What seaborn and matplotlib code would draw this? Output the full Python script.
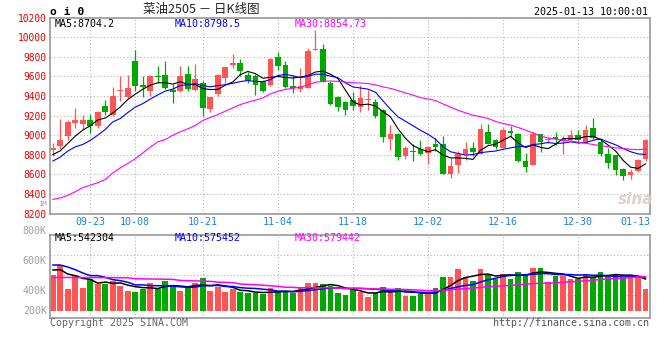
import numpy as np
import pandas as pd
import matplotlib
matplotlib.use("Agg")
import matplotlib.pyplot as plt
import seaborn as sns

# ---------------- data ----------------
holidays = ["2024-09-16", "2024-09-17", "2024-10-01", "2024-10-02", "2024-10-03",
            "2024-10-04", "2024-10-07", "2025-01-01"]
trade_days = [d for d in pd.bdate_range("2024-09-12", "2025-01-13")
              if d.strftime("%Y-%m-%d") not in holidays]

opens = [8844, 8892, 8990, 9123, 9116, 9150, 9092, 9293, 9204, 9453,
         9388, 9755, 9517, 9456, 9609, 9619, 9463, 9449, 9626, 9459,
         9534, 9272, 9422, 9582, 9714, 9738, 9619, 9602, 9555, 9510,
         9799, 9721, 9507, 9476, 9483, 9874, 9884, 9534, 9395, 9340,
         9364, 9286, 9357, 9340, 9255, 8956, 9017, 8786, 8837, 8854,
         8820, 8915, 8905, 8599, 8691, 8803, 8871, 8810, 9031, 8946,
         8871, 9041, 9007, 8735, 8694, 9007, 8946, 8983, 8939, 8946,
         8997, 8922, 9075, 8929, 8810, 8793, 8650, 8592, 8633, 8759]
highs = [8922, 9170, 9150, 9279, 9204, 9221, 9252, 9364, 9490, 9602,
         9619, 9867, 9609, 9615, 9711, 9755, 9524, 9704, 9711, 9731,
         9551, 9395, 9629, 9700, 9830, 9779, 9646, 9626, 9568, 9789,
         9847, 9755, 9619, 9687, 9891, 10078, 9932, 9551, 9405, 9354,
         9442, 9517, 9466, 9374, 9269, 9109, 9020, 8888, 8905, 8946,
         8888, 8973, 8990, 8769, 8837, 8929, 8929, 9119, 9119, 8966,
         9075, 9089, 9024, 8820, 9034, 9014, 8983, 9034, 8990, 9058,
         9048, 9109, 9177, 8946, 8871, 8793, 8667, 8650, 8752, 8956]
lows = [8786, 8854, 8946, 9075, 9068, 9024, 9075, 9211, 9194, 9354,
        9381, 9449, 9388, 9398, 9534, 9476, 9330, 9442, 9456, 9449,
        9194, 9235, 9398, 9534, 9687, 9602, 9534, 9415, 9442, 9507,
        9670, 9480, 9429, 9439, 9483, 9867, 9544, 9306, 9245, 9204,
        9255, 9235, 9262, 9177, 8929, 8847, 8745, 8759, 8735, 8796,
        8701, 8837, 8599, 8558, 8616, 8745, 8786, 8803, 8915, 8854,
        8864, 8983, 8725, 8623, 8694, 8827, 8922, 8895, 8803, 8946,
        8922, 8922, 8963, 8786, 8660, 8589, 8541, 8555, 8623, 8735]
closes = [8871, 8946, 9133, 9150, 9157, 9096, 9238, 9235, 9405, 9466,
          9480, 9507, 9490, 9609, 9592, 9480, 9439, 9609, 9476, 9578,
          9279, 9388, 9619, 9694, 9738, 9653, 9551, 9510, 9456, 9782,
          9704, 9497, 9480, 9507, 9857, 9884, 9544, 9323, 9286, 9262,
          9293, 9381, 9364, 9194, 8980, 9017, 8776, 8871, 8824, 8803,
          8881, 8878, 8599, 8681, 8803, 8854, 8827, 9065, 8915, 8878,
          9058, 9024, 8735, 8674, 9014, 8929, 8963, 8956, 8966, 9000,
          8946, 9058, 8973, 8803, 8711, 8643, 8582, 8626, 8742, 8946]
# volume in thousands of lots
volumes = [618, 782, 368, 618, 385, 538, 459, 459, 504, 431,
           346, 329, 380, 482, 374, 516, 402, 346, 414, 482,
           567, 346, 414, 317, 368, 317, 306, 300, 283, 385,
           346, 346, 300, 397, 482, 482, 465, 419, 312, 278,
           374, 329, 244, 306, 414, 317, 397, 261, 261, 283,
           312, 397, 584, 584, 708, 572, 516, 720, 618, 550,
           635, 550, 669, 635, 737, 737, 499, 589, 589, 550,
           544, 618, 572, 669, 618, 618, 572, 572, 572, 380]

# moving-average values before a full window is available
ma5_head = [8800, 8840, 8915, 8990]
ma10_head = [8735, 8776, 8837, 8881, 8905, 8946, 9000, 9058, 9136]
ma30_head = [8344, 8358, 8385, 8422, 8463, 8490, 8514, 8548, 8613, 8667,
             8711, 8759, 8820, 8878, 8932, 8956, 9000, 9034, 9065, 9099,
             9150, 9181, 9211, 9245, 9279, 9313, 9337, 9357, 9381]
vma5_head = [697, 703, 629, 601]
vma10_head = [782, 782, 748, 703, 646, 601, 601, 572, 533]
vma30_head = [570, 570, 570, 569, 569, 568, 568, 567, 567, 566,
              565, 548, 546, 544, 542, 540, 538, 520, 516, 512,
              508, 504, 490, 486, 482, 458, 452, 446, 440]

price_ma_text = ["MA5:8704.2", "MA10:8798.5", "MA30:8854.73"]
vol_ma_text = ["MA5:542304", "MA10:575452", "MA30:579442"]
price_ticks = [8200, 8400, 8600, 8800, 9000, 9200, 9400, 9600, 9800, 10000, 10200]
vol_tick_labels = ["800K", "600K", "400K", "200K"]
tick_dates = ["09-23", "10-08", "10-21", "11-04", "11-18", "12-02", "12-16", "12-30"]
last_date_label = "01-13"
title_text = "菜油2505 － 日K线图"
code_text = "o i 0"
time_text = "2025-01-13 10:00:01"

# ---------------- derived ----------------
o = np.array(opens, float); h = np.array(highs, float)
l = np.array(lows, float); c = np.array(closes, float)
vol = np.array(volumes, float)
n = len(c)
xi = np.arange(n)


def with_head(series, window, head):
    r = pd.Series(series).rolling(window).mean().to_numpy()
    r[:len(head)] = head
    return r


ma5 = with_head(c, 5, ma5_head)
ma10 = with_head(c, 10, ma10_head)
ma30 = with_head(c, 30, ma30_head)
vma5 = with_head(vol, 5, vma5_head)
vma10 = with_head(vol, 10, vma10_head)
vma30 = with_head(vol, 30, vma30_head)

labels_md = [d.strftime("%m-%d") for d in trade_days]
tick_idx = [labels_md.index(t) for t in tick_dates]

# ---------------- styling ----------------
sns.set_style("white")
plt.rcParams["font.family"] = ["DejaVu Sans Mono", "Noto Sans CJK SC"]

RED = "#ff5555"
GREEN = "#00a800"
GRIDC = "#b4b4b4"
FRAME = "#9a9a9a"
DATEC = "#1a84d8"
PAL = {"MA5": "#000000", "MA10": "#0000ff", "MA30": "#ff00ff"}

W, H = 660, 360
fig = plt.figure(figsize=(6.6, 3.6), dpi=100)
fig.patch.set_facecolor("white")


def fx(x):
    return x / W


def fy(y):
    return 1 - y / H


axp = fig.add_axes([fx(50), fy(213.5), 600 / W, (213.5 - 17.7) / H])
axv = fig.add_axes([fx(50), fy(318.3), 600 / W, (318.3 - 234.7) / H])

up = c >= o
cols = np.where(up, RED, GREEN)

# candles
axp.vlines(xi, l, h, colors=cols, linewidth=0.9, zorder=2)
body_b = np.minimum(o, c)
body_h = np.maximum(np.abs(c - o), 9)
axp.bar(xi, body_h, bottom=body_b, width=0.76, color=cols, linewidth=0, zorder=2)

pdf = pd.DataFrame({"i": xi, "MA5": ma5, "MA10": ma10, "MA30": ma30}).melt(
    "i", var_name="ma", value_name="v")
sns.lineplot(data=pdf, x="i", y="v", hue="ma", palette=PAL, ax=axp, legend=False,
             linewidth=0.8, errorbar=None, zorder=3)

# volume
axv.bar(xi, vol, width=0.76, color=cols, linewidth=0, zorder=2)
vdf = pd.DataFrame({"i": xi, "MA5": vma5, "MA10": vma10, "MA30": vma30}).melt(
    "i", var_name="ma", value_name="v")
sns.lineplot(data=vdf, x="i", y="v", hue="ma", palette=PAL, ax=axv, legend=False,
             linewidth=1.1, errorbar=None, zorder=3)

grid_kw = dict(color=GRIDC, linestyle=(0, (1, 2)), linewidth=0.8)
for ax in (axp, axv):
    ax.set_xlim(-0.36, 79.58)
    ax.set_xlabel("")
    ax.set_ylabel("")
    for s in ax.spines.values():
        s.set_visible(True)
        s.set_color(FRAME)
        s.set_linewidth(1.2)
        s.set_zorder(5)
    ax.tick_params(length=0)
    ax.set_xticks(tick_idx)
    ax.set_axisbelow(True)
    ax.xaxis.grid(True, **grid_kw)

axp.set_ylim(8200, 10200)
axp.set_yticks(price_ticks)
axp.set_yticklabels([str(t) for t in price_ticks], color="#e60000", fontsize=6.9)
axp.tick_params(axis="y", pad=2.4)
axp.yaxis.grid(True, **grid_kw)
axp.set_xticklabels(tick_dates, color=DATEC, fontsize=7.2)
axp.tick_params(axis="x", pad=2.2)
axp.text(1.0, -0.0185, last_date_label, transform=axp.transAxes, ha="right", va="top",
         color=DATEC, fontsize=7.2)

vlo, vhi = -124, 1297
axv.set_ylim(vlo, vhi)
axv.set_yticks([])
axv.set_xticklabels([])
for f in [0.2751, 0.5179, 0.7536]:
    axv.axhline(vlo + f * (vhi - vlo), zorder=1, **grid_kw)

# ---------------- texts ----------------
fig.text(fx(50), fy(12), code_text, fontsize=8.2, fontweight="bold", va="center",
         ha="left", color="#000000")
fig.text(fx(201), fy(9.8), title_text, fontsize=9, va="center", ha="center",
         color="#222222", family=["Noto Sans CJK SC"])
fig.text(fx(648.5), fy(11.8), time_text, fontsize=7.2, va="center", ha="right",
         color="#000000")

for txt, xp, col in zip(price_ma_text, [54.3, 174.3, 295], PAL.values()):
    fig.text(fx(xp), fy(24.2), txt, fontsize=7.2, va="center", ha="left", color=col)
for txt, xp, col in zip(vol_ma_text, [54.3, 174.3, 295], PAL.values()):
    fig.text(fx(xp), fy(238.3), txt, fontsize=7.2, va="center", ha="left", color=col,
             zorder=6)

for lab, yp in zip(vol_tick_labels, [230.7, 260.7, 290.7, 310.7]):
    fig.text(fx(46.8), fy(yp), lab, fontsize=7.2, va="center", ha="right", color="#a0a0a0")
fig.text(fx(47), fy(203.8), "1M", fontsize=5.2, va="center", ha="right", color="#a0a0a0")

fig.text(fx(50), fy(323.3), "Copyright 2025 SINA.COM", fontsize=7.2, va="center",
         ha="left", color="#666666")
fig.text(fx(649.3), fy(323.3), "http://finance.sina.com.cn", fontsize=7.2, va="center",
         ha="right", color="#555555")

# watermark
fig.text(fx(636), fy(199), "sina", fontsize=11, fontweight="bold", style="italic",
         va="center", ha="center", color="#d9cccc", family=["DejaVu Sans"], alpha=0.9)

fig.savefig("out.png", dpi=100, facecolor="white")
